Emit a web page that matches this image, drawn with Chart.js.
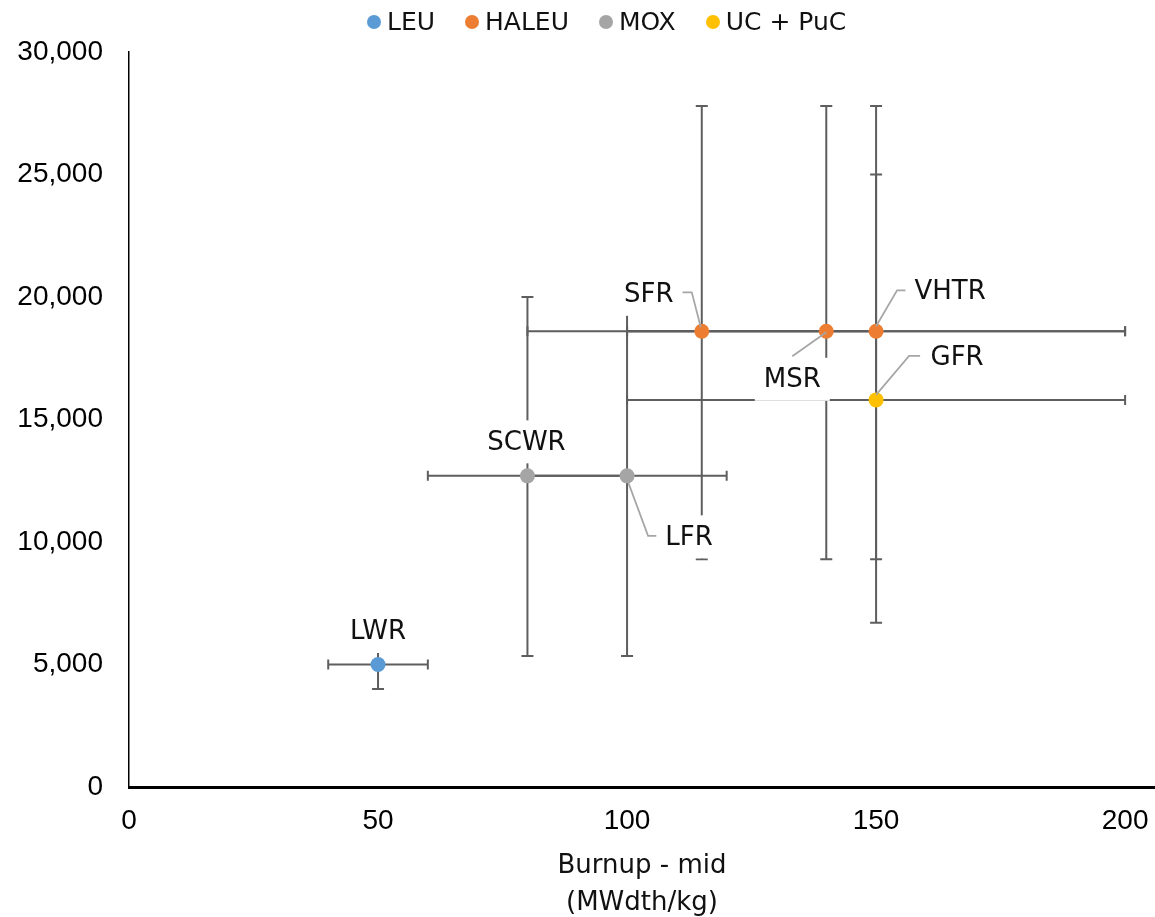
<!DOCTYPE html>
<html>
<head>
<meta charset="utf-8">
<title>Burnup by reactor type</title>
<script src="https://cdn.jsdelivr.net/npm/chart.js@4"></script>
<style>
  body { margin: 0; background: #fff; }
  #wrap { position: relative; width: 1155px; height: 917px; }
  #legend {
    position: absolute; top: 8px; left: 367px;
    display: flex; align-items: center; white-space: nowrap;
    font: 25px "DejaVu Sans", sans-serif; line-height: 28px; color: #111;
  }
  #legend .item { display: flex; align-items: center; margin-right: 30px; }
  #legend .dot { width: 14px; height: 14px; border-radius: 50%; margin-right: 6px; }
</style>
</head>
<body>
<div id="wrap">
  <canvas id="chart" width="1155" height="917"></canvas>
  <div id="legend"></div>
</div>
<script>
// reactor concepts, their fuel and ranges
const reactors   = ['LWR', 'SCWR', 'LFR', 'SFR', 'MSR', 'VHTR', 'GFR'];
const fuels      = ['LEU', 'MOX', 'MOX', 'HALEU', 'HALEU', 'HALEU', 'UC + PuC'];
const burnupMid  = [50, 80, 100, 115, 140, 150, 150];
const burnupLow  = [40, 60, 80, 80, 100, 100, 100];
const burnupHigh = [60, 100, 120, 150, 200, 200, 200];
const valueMid   = [5000, 12700, 12700, 18600, 18600, 18600, 15800];
const valueLow   = [4000, 5350, 5350, 9300, 9300, 9300, 6700];
const valueHigh  = [6000, 20000, 20000, 27800, 27800, 27800, 25000];

const fuelTypes  = ['LEU', 'HALEU', 'MOX', 'UC + PuC'];
const xTicks     = [0, 50, 100, 150, 200];
const yTicks     = [0, 5000, 10000, 15000, 20000, 25000, 30000];

// styling: colours, label offsets and leader paths (pixels from the point)
const fuelColors = ['#5b9bd5', '#ed7d31', '#a5a5a5', '#ffc000'];
const labelOffsets = [[0, -33], [-1, -34], [62, 61], [-53, -37], [-34, 48], [74, -40], [81, -43]];
const leaderPaths = [
  null,
  null,
  [[1, 6], [21, 60], [31, 60]],
  [[-1, -4], [-10, -39], [-22, -39]],
  [[0, 1], [-34, 25]],
  [[0, -5], [21, -41], [31, -41]],
  [[0, -5], [33, -44], [44, -44]]
];

const labelFont = '"DejaVu Sans", sans-serif';
const tickFont = { family: '"Liberation Sans", Arial, sans-serif', size: 28 };

// legend
const legendEl = document.getElementById('legend');
fuelTypes.forEach((fuel, k) => {
  const item = document.createElement('span');
  item.className = 'item';
  const dot = document.createElement('span');
  dot.className = 'dot';
  dot.style.background = fuelColors[k];
  item.appendChild(dot);
  item.appendChild(document.createTextNode(fuel));
  legendEl.appendChild(item);
});

const datasets = fuelTypes.map((fuel, k) => ({
  label: fuel,
  data: reactors
    .map((name, i) => i)
    .filter((i) => fuels[i] === fuel)
    .map((i) => ({ x: burnupMid[i], y: valueMid[i] })),
  backgroundColor: fuelColors[k],
  borderWidth: 0,
  pointRadius: 7.5,
  pointHoverRadius: 7.5
}));

// min/max bars behind the markers
const errorBars = {
  id: 'errorBars',
  beforeDatasetsDraw(chart) {
    const { ctx, scales: { x, y } } = chart;
    ctx.save();
    ctx.strokeStyle = '#5e5e5e';
    ctx.lineWidth = 2;
    reactors.forEach((name, i) => {
      const px = x.getPixelForValue(burnupMid[i]);
      const py = y.getPixelForValue(valueMid[i]);
      const x0 = x.getPixelForValue(burnupLow[i]);
      const x1 = x.getPixelForValue(burnupHigh[i]);
      const y0 = y.getPixelForValue(valueLow[i]);
      const y1 = y.getPixelForValue(valueHigh[i]);
      ctx.beginPath();
      ctx.moveTo(x0, py); ctx.lineTo(x1, py);
      ctx.moveTo(x0, py - 5); ctx.lineTo(x0, py + 5);
      ctx.moveTo(x1, py - 5); ctx.lineTo(x1, py + 5);
      ctx.moveTo(px, y0); ctx.lineTo(px, y1);
      ctx.moveTo(px - 6, y0); ctx.lineTo(px + 6, y0);
      ctx.moveTo(px - 6, y1); ctx.lineTo(px + 6, y1);
      ctx.stroke();
    });
    ctx.restore();
  }
};

// reactor names with white boxes and leader lines
const pointLabels = {
  id: 'pointLabels',
  afterDatasetsDraw(chart) {
    const { ctx, scales: { x, y } } = chart;
    const pos = reactors.map((name, i) => [
      x.getPixelForValue(burnupMid[i]),
      y.getPixelForValue(valueMid[i])
    ]);
    ctx.save();
    ctx.strokeStyle = '#a6a6a6';
    ctx.lineWidth = 1.75;
    leaderPaths.forEach((path, i) => {
      if (!path) return;
      const [px, py] = pos[i];
      ctx.beginPath();
      path.forEach(([dx, dy], k) => {
        if (k === 0) ctx.moveTo(px + dx, py + dy);
        else ctx.lineTo(px + dx, py + dy);
      });
      ctx.stroke();
    });
    ctx.font = '26px ' + labelFont;
    ctx.textAlign = 'center';
    ctx.textBaseline = 'middle';
    reactors.forEach((name, i) => {
      const cx = pos[i][0] + labelOffsets[i][0];
      const cy = pos[i][1] + labelOffsets[i][1];
      const w = ctx.measureText(name).width + 18;
      ctx.fillStyle = '#fff';
      ctx.fillRect(cx - w / 2, cy - 21.5, w, 43);
      ctx.fillStyle = '#111';
      ctx.fillText(name, cx, cy + 1);
    });
    ctx.restore();
  }
};

new Chart(document.getElementById('chart'), {
  type: 'scatter',
  data: { datasets },
  options: {
    responsive: false,
    animation: false,
    devicePixelRatio: 1,
    layout: { autoPadding: false, padding: { top: 52, right: 0, bottom: 0, left: 0 } },
    plugins: {
      legend: { display: false },
      tooltip: { enabled: false }
    },
    scales: {
      x: {
        type: 'linear',
        min: 0,
        max: 206,
        afterBuildTicks: (scale) => {
          scale.ticks = xTicks.map((value) => ({ value }));
        },
        afterFit: (scale) => {
          scale.height = 130;
          scale.paddingRight = 0;
        },
        grid: { display: false, drawTicks: false },
        border: { display: true, color: '#000', width: 3 },
        ticks: { font: tickFont, color: '#000', padding: 17 },
        title: {
          display: true,
          text: ['Burnup - mid', '(MWdth/kg)'],
          color: '#111',
          font: { family: labelFont, size: 26, lineHeight: 1.44 },
          padding: { top: 0, bottom: -5 }
        }
      },
      y: {
        min: 0,
        max: 30000,
        afterBuildTicks: (scale) => {
          scale.ticks = yTicks.map((value) => ({ value }));
        },
        afterFit: (scale) => { scale.width = 129; },
        grid: { display: false, drawTicks: false },
        border: { display: true, color: '#000', width: 1.5 },
        ticks: {
          font: tickFont,
          color: '#000',
          padding: 26,
          callback: (value) => value.toLocaleString('en-US')
        }
      }
    }
  },
  plugins: [errorBars, pointLabels]
});
</script>
</body>
</html>
